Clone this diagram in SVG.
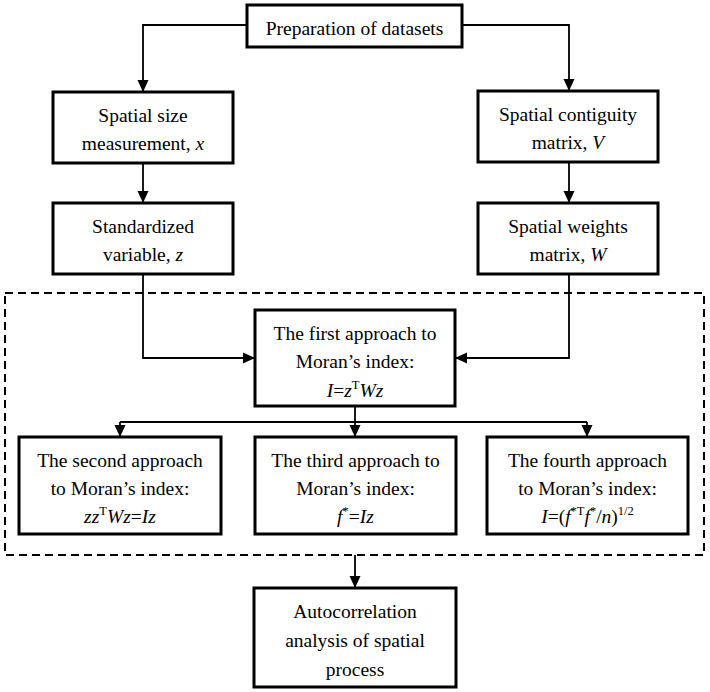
<svg xmlns="http://www.w3.org/2000/svg" width="710" height="692" viewBox="0 0 710 692">
<style>
.box{fill:#fff;stroke:#000;stroke-width:3}
.t{font-family:"Liberation Serif","Times New Roman",serif;font-size:19.5px;fill:#000;text-anchor:middle}
.i{font-style:italic}
.sup{font-size:12.5px}
.c{fill:none;stroke:#000;stroke-width:1.8}
.dash{fill:none;stroke:#000;stroke-width:2;stroke-dasharray:8,5}
</style>
<defs>
<marker id="ah" markerUnits="userSpaceOnUse" markerWidth="14" markerHeight="14" refX="12" refY="6.5" orient="auto">
<path d="M0,1 L12,6.5 L0,12 z" fill="#000"/>
</marker>
</defs>
<rect width="710" height="692" fill="#fff"/>
<rect class="dash" x="5" y="293" width="699" height="262"/>
<g id="connectors">
<path class="c" d="M247,25 H143 V92" marker-end="url(#ah)"/>
<path class="c" d="M462,25 H569 V91" marker-end="url(#ah)"/>
<path class="c" d="M143,163 V203" marker-end="url(#ah)"/>
<path class="c" d="M569,162 V203" marker-end="url(#ah)"/>
<path class="c" d="M143,274 V358 H255" marker-end="url(#ah)"/>
<path class="c" d="M569,274 V358 H455" marker-end="url(#ah)"/>
<path class="c" d="M355,406 V437" marker-end="url(#ah)"/>
<path class="c" d="M120,422 H587"/>
<path class="c" d="M120,422 V437" marker-end="url(#ah)"/>
<path class="c" d="M587,422 V437" marker-end="url(#ah)"/>
<path class="c" d="M355,555 V588" marker-end="url(#ah)"/>
</g>
<g id="n1">
<rect class="box" x="247" y="5" width="215" height="42"/>
<text class="t" x="354.5" y="35">Preparation of datasets</text>
</g>
<g id="n2">
<rect class="box" x="53" y="92" width="180" height="71"/>
<text class="t" x="143" y="121.5">Spatial size</text>
<text class="t" x="143" y="150">measurement, <tspan class="i">x</tspan></text>
</g>
<g id="n3">
<rect class="box" x="478" y="91" width="180" height="71"/>
<text class="t" x="568" y="121">Spatial contiguity</text>
<text class="t" x="568" y="149">matrix, <tspan class="i">V</tspan></text>
</g>
<g id="n4">
<rect class="box" x="53" y="203" width="180" height="71"/>
<text class="t" x="143" y="233">Standardized</text>
<text class="t" x="143" y="261">variable, <tspan class="i">z</tspan></text>
</g>
<g id="n5">
<rect class="box" x="478" y="203" width="180" height="71"/>
<text class="t" x="568" y="233">Spatial weights</text>
<text class="t" x="568" y="261">matrix, <tspan class="i">W</tspan></text>
</g>
<g id="n6">
<rect class="box" x="255" y="310" width="200" height="96"/>
<text class="t" x="355" y="340">The first approach to</text>
<text class="t" x="355" y="368">Moran’s index:</text>
<text class="t" x="355" y="397"><tspan class="i">I</tspan>=<tspan class="i">z</tspan><tspan class="sup" dy="-8">T</tspan><tspan class="i" dy="8">Wz</tspan></text>
</g>
<g id="n7">
<rect class="box" x="19" y="437" width="202" height="97"/>
<text class="t" x="120" y="467">The second approach</text>
<text class="t" x="120" y="495">to Moran’s index:</text>
<text class="t" x="120" y="523"><tspan class="i">zz</tspan><tspan class="sup" dy="-8">T</tspan><tspan class="i" dy="8">Wz</tspan>=<tspan class="i">Iz</tspan></text>
</g>
<g id="n8">
<rect class="box" x="255" y="437" width="201" height="97"/>
<text class="t" x="355.5" y="467">The third approach to</text>
<text class="t" x="355.5" y="495">Moran’s index:</text>
<text class="t" x="355.5" y="523"><tspan class="i">f</tspan><tspan class="sup" dy="-8">*</tspan><tspan dy="8">=</tspan><tspan class="i">Iz</tspan></text>
</g>
<g id="n9">
<rect class="box" x="487" y="437" width="201" height="97"/>
<text class="t" x="587.5" y="467">The fourth approach</text>
<text class="t" x="587.5" y="495">to Moran’s index:</text>
<text class="t" x="587.5" y="523"><tspan class="i">I</tspan>=(<tspan class="i">f</tspan><tspan class="sup" dy="-8">*T</tspan><tspan class="i" dy="8">f</tspan><tspan class="sup" dy="-8">*</tspan><tspan dy="8">/</tspan><tspan class="i">n</tspan>)<tspan class="sup" dy="-8">1/2</tspan></text>
</g>
<g id="n10">
<rect class="box" x="254" y="588" width="202" height="99"/>
<text class="t" x="355" y="618">Autocorrelation</text>
<text class="t" x="355" y="647">analysis of spatial</text>
<text class="t" x="355" y="676">process</text>
</g>
</svg>
